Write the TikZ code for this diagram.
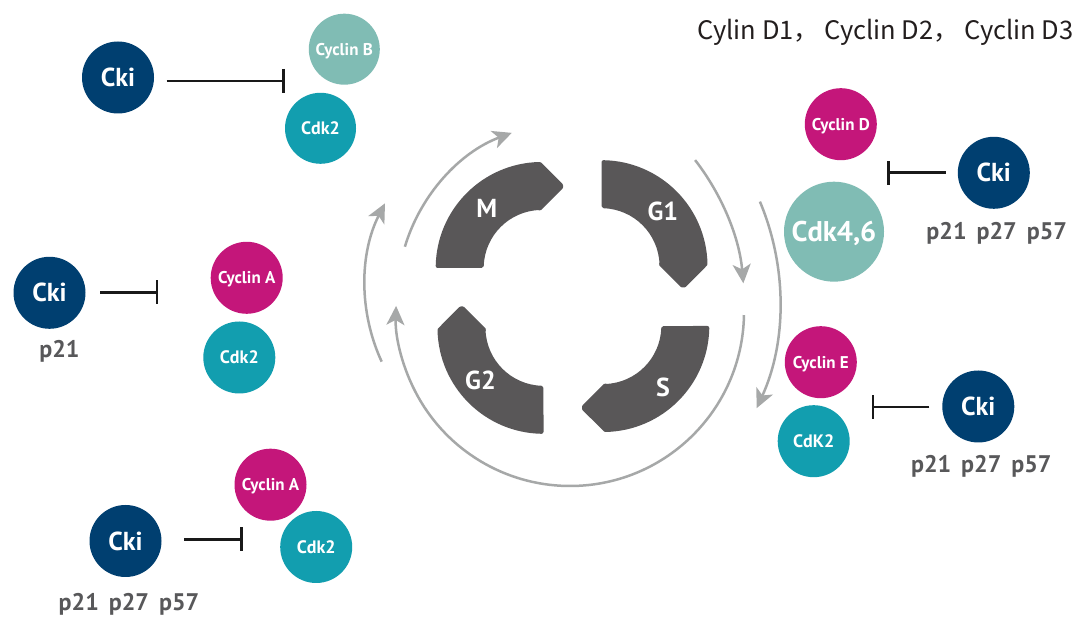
\documentclass[tikz,border=0pt]{standalone}
\usepackage{fontspec}
\setmainfont{PT Sans}
\newfontfamily\cjkf{Noto Sans CJK SC}
\usetikzlibrary{arrows.meta,calc}
\definecolor{cNavy}{RGB}{0,63,112}
\definecolor{cTeal}{RGB}{18,158,175}
\definecolor{cMint}{RGB}{128,188,180}
\definecolor{cMag}{RGB}{196,22,122}
\definecolor{cSeg}{RGB}{89,87,88}
\definecolor{cArr}{RGB}{166,168,168}
\definecolor{cTxt}{RGB}{88,88,90}
\definecolor{cBar}{RGB}{25,25,25}
\definecolor{cTop}{RGB}{35,30,30}
\newcommand{\pgap}{\hspace*{10pt}}
\newcommand{\cgap}{\hspace*{5pt}}
\begin{document}
\begin{tikzpicture}[x=1pt,y=1pt,
  mol/.style={circle, inner sep=0pt, text=white, text depth=0pt},
  ckinode/.style={mol, fill=cNavy, minimum size=72pt, font=\fontsize{26}{26}\selectfont\bfseries, text height=18.2pt},
  cycnode/.style={mol, fill=cMag, minimum size=72pt, font=\fontsize{17}{17}\selectfont\bfseries, text height=11.9pt},
  cdknode/.style={mol, fill=cTeal, minimum size=72pt, font=\fontsize{18}{18}\selectfont\bfseries, text height=12.6pt},
  plabel/.style={text=cTxt, font=\fontsize{24}{24}\selectfont\bfseries, inner sep=0pt, anchor=base},
  phase/.style={text=white, font=\fontsize{26}{26}\selectfont\bfseries, inner sep=0pt, anchor=base},
  inhib/.style={draw=cBar, line width=2.6pt, -{Bar[width=24pt]}},
  cycarrow/.style={draw=cArr, line width=2.5pt, -{Stealth[length=19pt,width=18pt,inset=5pt]}},
  seg/.style={fill=cSeg, draw=cSeg, line width=4pt, line join=round}
]
\useasboundingbox (0,0) rectangle (1083,617);
\fill[white] (0,0) rectangle (1083,617);

% cycle segments (quarter rings centred on their own inner corners)
\coordinate (ctr) at (572.5,320);
\foreach \k in {0,1,2,3}{
  \filldraw[seg, shift={(572.5,320)}, rotate=-90*\k, shift={(-30.8,29)}]
    (-104,2) arc[start angle=178.9, end angle=91.1, radius=104]
    -- (19.3,82.7) -- (19.3,80.7) -- (-2,59.4) -- (-2,60)
    arc[start angle=91.9, end angle=178.1, radius=60] -- cycle;
}
\node[phase] (phM) at (486.7,399.3) {M};
\node[phase] (phG1) at (662.8,396.3) {G1};
\node[phase] (phG2) at (480.5,227) {G2};
\node[phase] (phS) at (663,220.3) {S};

% cycle arrows
\coordinate (a0) at ($(572.5,320)+(163.3:175)$);
\draw[cycarrow] (a0) arc[start angle=163.3, end angle=110.3, radius=175];
\coordinate (b0) at ($(545.6,331.1)+(204.8:180.6)$);
\draw[cycarrow] (b0) arc[start angle=204.8, end angle=152.8, radius=180.6];
\coordinate (c0) at ($(570,305)+(-1:174)$);
\draw[cycarrow] (c0) arc[start angle=-1, end angle=-182, radius=174];
\coordinate (d0) at ($(510.2,313.5)+(37.8:234)$);
\draw[cycarrow] (d0) arc[start angle=37.8, end angle=4.95, radius=234];
\coordinate (e0) at ($(523,315.8)+(22.8:257)$);
\draw[cycarrow] (e0) arc[start angle=22.8, end angle=-24.6, radius=257];

% top-left group
\node[ckinode] (ckiA) at (118,539.5) {Cki};
\node[cycnode, fill=cMint, minimum size=71pt] (cycB) at (344.3,567.8) {Cyclin B};
\node[cdknode, minimum size=71pt] (cdkA) at (320.5,488.7) {Cdk2};
\coordinate (iA0) at (166.7,536);
\coordinate (iA1) at (285,536);
\draw[inhib] (iA0) -- (iA1);

% middle-left group
\node[ckinode] (ckiB) at (49.5,324.2) {Cki};
\node[plabel] (pB) at (59.5,259.7) {p21};
\node[cycnode] (cycA1) at (246.7,339.2) {Cyclin A};
\node[cdknode] (cdkB) at (239.3,259.5) {Cdk2};
\coordinate (iB0) at (100,324.7);
\coordinate (iB1) at (158.3,324.7);
\draw[inhib] (iB0) -- (iB1);

% bottom-left group
\node[ckinode] (ckiC) at (125.5,76) {Cki};
\node[plabel] (pC) at (129,6.3) {p21\pgap p27\pgap p57};
\node[cycnode] (cycA2) at (270.5,132.3) {Cyclin A};
\node[cdknode] (cdkC) at (316.2,70) {Cdk2};
\coordinate (iC0) at (184,77.7);
\coordinate (iC1) at (242.7,77.7);
\draw[inhib] (iC0) -- (iC1);

% top-right group
\node[text=cTop, font=\cjkf\fontsize{25.5}{25.5}\selectfont, inner sep=0pt, anchor=base west] (topt) at (697.3,577.7) {Cylin D1，\cgap Cyclin D2，\cgap Cyclin D3};
\node[cycnode] (cycD) at (840.8,492.8) {Cyclin D};
\node[mol, fill=cMint, minimum size=100pt, font=\fontsize{28.5}{28.5}\selectfont\bfseries, text height=20pt] (cdk46) at (834,385.3) {Cdk4,6};
\node[ckinode] (ckiD) at (993.8,444.2) {Cki};
\node[plabel] (pD) at (996.7,377.7) {p21\pgap p27\pgap p57};
\coordinate (iD0) at (945.7,444.3);
\coordinate (iD1) at (887.3,444.3);
\draw[inhib] (iD0) -- (iD1);

% right group
\node[cycnode] (cycE) at (820.8,254.8) {Cyclin E};
\node[cdknode] (cdkE) at (813.7,175.8) {CdK2};
\node[ckinode] (ckiE) at (978.3,210.5) {Cki};
\node[plabel] (pE) at (981.3,144.3) {p21\pgap p27\pgap p57};
\coordinate (iE0) at (929.3,210);
\coordinate (iE1) at (871.7,210);
\draw[inhib] (iE0) -- (iE1);
\end{tikzpicture}
\end{document}
